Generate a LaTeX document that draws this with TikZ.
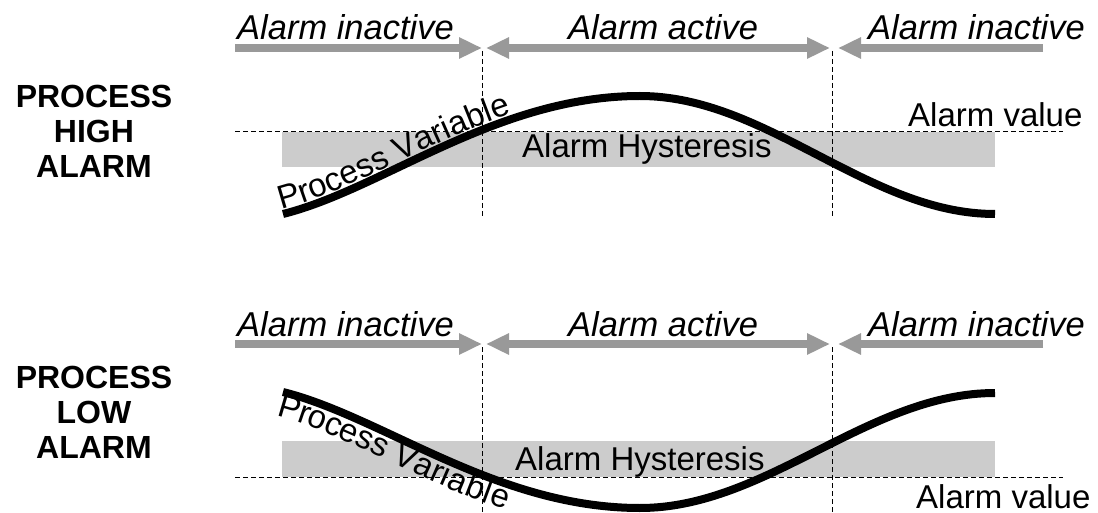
\documentclass[tikz,border=0pt]{standalone}
\usepackage{fontspec}
\setmainfont{Liberation Sans}
\usepackage{tikz}
\usepackage{xcolor}
\usetikzlibrary{arrows.meta,positioning,calc,decorations.text}

\definecolor{spangray}{HTML}{999999}
\definecolor{bandgray}{HTML}{CCCCCC}
\newcommand\pvfont{\fontsize{33}{33}\selectfont}

\begin{document}
\begin{tikzpicture}[x=1pt,y=-1pt,
>={Triangle[length=23pt,width=20pt]},
lbl/.style={font=\fontsize{34.5}{34.5}\selectfont\itshape,anchor=base west,inner sep=0pt},
txt/.style={font=\pvfont,anchor=base west,inner sep=0pt},
ttl/.style={font=\fontsize{32}{35}\selectfont\bfseries,align=center,inner sep=0pt},
span/.style={draw=spangray,line width=8pt},
lim/.style={dash pattern=on 5pt off 3pt,line width=1pt},
band/.style={fill=bandgray},
pv/.style={line width=8pt}]

\useasboundingbox (0,0) rectangle (1098,513);

\fill[band] (282,132) rectangle (995,167);
\draw[lim] (235,132) -- (1063,132);
\fill[band] (282,441) rectangle (995,477);
\draw[lim] (235,477) -- (1063,477);

\foreach \s/\dy in {hi/0,lo/296}{
  \node[lbl] (in1\s) at (237,40+\dy) {Alarm inactive};
  \node[lbl] (act\s) at (568,40+\dy) {Alarm active};
  \node[lbl] (in2\s) at (868,40+\dy) {Alarm inactive};
  \coordinate (a\s) at (235,48+\dy);
  \coordinate (on\s) at (482,48+\dy);
  \coordinate (off\s) at (832,48+\dy);
  \coordinate (b\s) at (1043,48+\dy);
  \draw[span,->] (a\s) -- (on\s);
  \draw[span,<->] ([xshift=4pt]on\s) -- ([xshift=-2pt]off\s);
  \draw[span,->] (b\s) -- ([xshift=6pt]off\s);
  \draw[lim] ([yshift=-3pt]on\s) -- ++(0,166);
  \draw[lim] ([yshift=-3pt]off\s) -- ++(0,166);
}

\node[ttl] (hi) at (94,131) {PROCESS\\HIGH\\ALARM};
\node[ttl] (lo) at (94,412) {PROCESS\\LOW\\ALARM};

\node[txt] (hyshi) at (522,158) {Alarm Hysteresis};
\node[txt] (valhi) at (908,127) {Alarm value};
\node[txt] (hyslo) at (515,470) {Alarm Hysteresis};
\node[txt] (vallo) at (916,508) {Alarm value};

\draw[pv] (283,214) .. controls (383,189) and (496,96) .. (640,96)
  .. controls (767,96) and (868,214) .. (995,214);
\path[decorate,decoration={text along path,raise=5pt,
  text={|\pvfont|Process Variable}}]
  (283,214) .. controls (383,189) and (496,96) .. (640,96);

\draw[pv] (283,392) .. controls (383,417) and (496,508) .. (640,508)
  .. controls (767,508) and (868,393) .. (995,393);
\path[decorate,decoration={text along path,raise=-25pt,
  text={|\pvfont|Process Variable}}]
  (283,392) .. controls (383,417) and (496,508) .. (640,508);
\end{tikzpicture}
\end{document}
